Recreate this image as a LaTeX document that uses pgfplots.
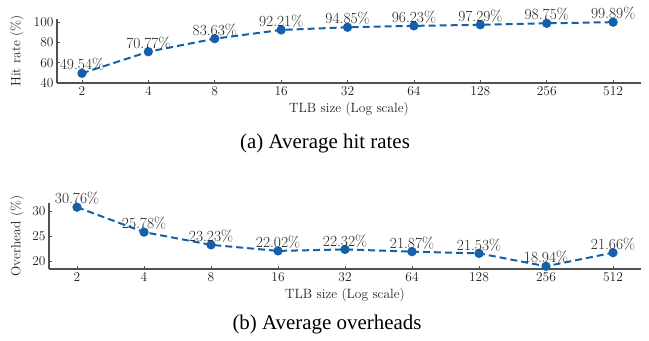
\documentclass[border=0pt]{standalone}
\usepackage{fontspec}
\usepackage{pgfplots}
\pgfplotsset{compat=1.18}
\newfontfamily\capfont{Liberation Serif}
\definecolor{lineblue}{RGB}{21,96,170}
\definecolor{axgray}{RGB}{80,80,80}
\begin{document}
\begin{tikzpicture}
\useasboundingbox (0bp,0bp) rectangle (649bp,-341bp);
\pgfplotsset{
 myax/.style={scale only axis, axis lines=left,
  axis line style={-, axgray, line width=1.2bp},
  tick align=inside, major tick length=3bp,
  tick style={axgray, line width=0.8bp},
  xtick={0,...,8}, xticklabels={2,4,8,16,32,64,128,256,512},
  ticklabel style={font=\fontsize{13.5}{15}\selectfont, text=black!88},
  label style={font=\fontsize{13.5}{15}\selectfont, text=black!88},
  /pgf/number format/assume math mode=true,
  xlabel={TLB size (Log scale)},
  nodes near coords, point meta=explicit symbolic,
  every node near coord/.append style={font=\fontsize{15.5}{17}\selectfont, text=black!85, inner sep=1.5bp},
  clip=false},
 myline/.style={lineblue, line width=2bp, dash pattern=on 7bp off 4bp, mark=*, mark size=3.6bp, mark options={solid, fill=lineblue, draw=lineblue}}
}
\begin{axis}[myax, at={(57bp,-83bp)}, anchor=south west, width=584bp, height=64bp,
  xmin=-0.376, xmax=8.42, ymin=40, ymax=103, ytick={40,60,80,100},
  ylabel={Hit rate (\%)},
  ylabel style={at={(axis description cs:-0.0685,0.5)}, anchor=center}]
\addplot[myline] coordinates {
 (0,49.54) [49.54\%]
 (1,70.77) [70.77\%]
 (2,83.63) [83.63\%]
 (3,92.21) [92.21\%]
 (4,94.85) [94.85\%]
 (5,96.23) [96.23\%]
 (6,97.29) [97.29\%]
 (7,98.75) [98.75\%]
 (8,99.89) [99.89\%]
};
\end{axis}
\begin{axis}[myax, at={(49bp,-269bp)}, anchor=south west, width=592bp, height=66bp,
  xmin=-0.418, xmax=8.418, ymin=18.4, ymax=31.6, ytick={20,25,30},
  ylabel={Overhead (\%)},
  ylabel style={at={(axis description cs:-0.054,0.5)}, anchor=center}]
\addplot[myline] coordinates {
 (0,30.76) [30.76\%]
 (1,25.78) [25.78\%]
 (2,23.23) [23.23\%]
 (3,22.02) [22.02\%]
 (4,22.32) [22.32\%]
 (5,21.87) [21.87\%]
 (6,21.53) [21.53\%]
 (7,18.94) [18.94\%]
 (8,21.66) [21.66\%]
};
\end{axis}
\node[font=\capfont\fontsize{21}{24}\selectfont, text=black] at (325bp,-143bp) {(a) Average hit rates};
\node[font=\capfont\fontsize{21}{24}\selectfont, text=black] at (327bp,-324bp) {(b) Average overheads};
\end{tikzpicture}
\end{document}
